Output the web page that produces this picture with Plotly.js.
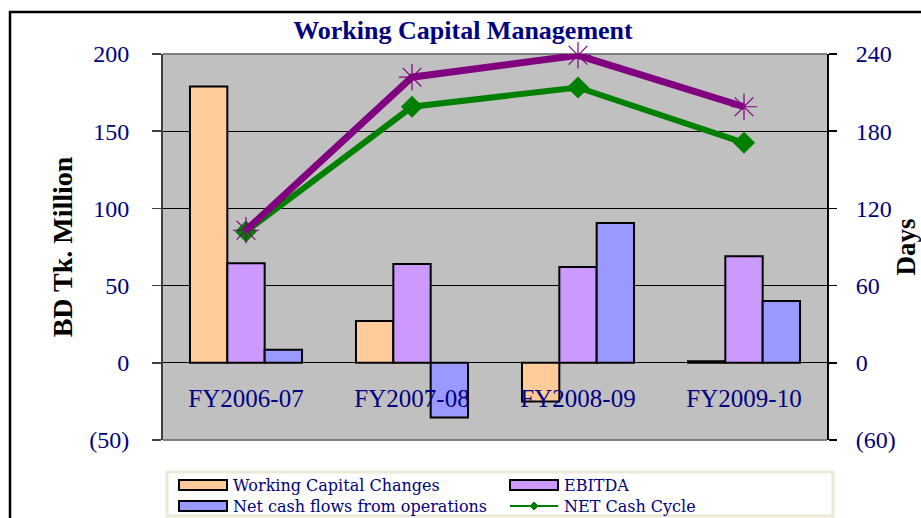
<!DOCTYPE html>
<html>
<head>
<meta charset="utf-8">
<script src="https://cdn.plot.ly/plotly-3.0.1.min.js"></script>
<style>html,body{margin:0;padding:0;background:#fff;}#chart{width:921px;height:518px;}</style>
</head>
<body>
<div id="chart"></div>
<script>
// ---- data ----
const categories = ['FY2006-07', 'FY2007-08', 'FY2008-09', 'FY2009-10'];
const workingCapitalChanges = [179, 27, -25, 1];
const ebitda = [64.5, 64, 62, 69];
const netCashFlows = [8.5, -35.5, 90.5, 40];
const netCashCycle = [102, 199, 214, 171];
const operatingCycle = [103, 222, 239, 199];
const seriesNames = ['Working Capital Changes', 'EBITDA', 'Net cash flows from operations', 'NET Cash Cycle'];
const leftTickVals = [-50, 0, 50, 100, 150, 200];
const leftTickText = ['(50)', '0', '50', '100', '150', '200'];
const rightTickVals = [-60, 0, 60, 120, 180, 240];
const rightTickText = ['(60)', '0', '60', '120', '180', '240'];

// ---- styles ----
const W = 921, H = 518;
const M = {l: 163, r: 94, t: 54, b: 78};
const PW = W - M.l - M.r, PH = H - M.t - M.b;
const px = v => (v - M.l) / PW;
const py = v => (H - M.b - v) / PH;
const navy = '#000080';
const serif = 'Liberation Serif, Times New Roman, serif';
const colOrange = '#FFCC99', colPurpleBar = '#CC99FF', colBlue = '#9999FF';
const colGreen = '#008000', colPurple = '#800080';

const barLine = {color: '#000', width: 2};
const traces = [
  {type: 'bar', name: seriesNames[0], x: categories, y: workingCapitalChanges,
   marker: {color: colOrange, line: barLine}},
  {type: 'bar', name: seriesNames[1], x: categories, y: ebitda,
   marker: {color: colPurpleBar, line: barLine}},
  {type: 'bar', name: seriesNames[2], x: categories, y: netCashFlows,
   marker: {color: colBlue, line: barLine}},
  {type: 'scatter', mode: 'lines+markers', name: seriesNames[3], x: categories, y: netCashCycle,
   yaxis: 'y2', line: {color: colGreen, width: 6},
   marker: {symbol: 'diamond', size: 17, color: colGreen}, cliponaxis: false},
  {type: 'scatter', mode: 'lines+markers', name: 'Operating Cycle', x: categories, y: operatingCycle,
   yaxis: 'y2', line: {color: colPurple, width: 7},
   marker: {symbol: 'asterisk-open', size: 22, color: colPurple, line: {color: colPurple, width: 1.2}},
   cliponaxis: false}
];

// ---- manual legend ----
const shapes = [
  // outer frame
  {type: 'rect', xref: 'paper', yref: 'paper', x0: px(10), x1: px(940), y0: py(12), y1: py(540),
   line: {color: '#000', width: 2.5}, fillcolor: 'rgba(0,0,0,0)', layer: 'below'},
  // plot border top / bottom
  {type: 'line', xref: 'paper', yref: 'paper', x0: 0, x1: 1, y0: 1, y1: 1, line: {color: '#808080', width: 2}, layer: 'below'},
  {type: 'line', xref: 'paper', yref: 'paper', x0: 0, x1: 1, y0: 0, y1: 0, line: {color: '#808080', width: 2}, layer: 'above'},
  // legend box
  {type: 'rect', xref: 'paper', yref: 'paper', x0: px(167), x1: px(833), y0: py(472), y1: py(516),
   line: {color: '#ECE9D8', width: 3}, fillcolor: '#fff', layer: 'above'}
];
const annotations = [];
const legendItems = [
  {name: seriesNames[0], kind: 'bar', color: colOrange, x: 179, y: 485},
  {name: seriesNames[1], kind: 'bar', color: colPurpleBar, x: 510, y: 485},
  {name: seriesNames[2], kind: 'bar', color: colBlue, x: 179, y: 506},
  {name: seriesNames[3], kind: 'line', color: colGreen, x: 510, y: 506}
];
legendItems.forEach(it => {
  if (it.kind === 'bar') {
    shapes.push({type: 'rect', xref: 'paper', yref: 'paper', x0: px(it.x), x1: px(it.x + 48),
      y0: py(it.y - 5), y1: py(it.y + 5), line: {color: '#000', width: 2}, fillcolor: it.color, layer: 'above'});
  } else {
    shapes.push({type: 'line', xref: 'paper', yref: 'paper', x0: px(it.x), x1: px(it.x + 48),
      y0: py(it.y), y1: py(it.y), line: {color: it.color, width: 2}, layer: 'above'});
    shapes.push({type: 'path', xref: 'paper', yref: 'paper', xsizemode: 'pixel', ysizemode: 'pixel',
      xanchor: px(it.x + 24), yanchor: py(it.y), path: 'M -4 0 L 0 4 L 4 0 L 0 -4 Z',
      line: {color: it.color, width: 1}, fillcolor: it.color, layer: 'above'});
  }
  annotations.push({xref: 'paper', yref: 'paper', x: px(it.x + 52), y: py(it.y), xanchor: 'left', yanchor: 'middle',
    text: it.name, showarrow: false, font: {family: 'DejaVu Serif, serif', size: 16, color: navy}});
});

const layout = {
  width: W, height: H,
  margin: M,
  paper_bgcolor: '#fff', plot_bgcolor: '#C0C0C0',
  showlegend: false,
  barmode: 'group', bargap: 0.325, bargroupgap: 0,
  title: {text: 'Working Capital Management', x: 463 / W, xanchor: 'center', y: 1 - 30 / H, yanchor: 'middle',
    font: {family: serif, size: 26, color: navy, weight: 'bold'}},
  xaxis: {type: 'category', anchor: 'free', position: py(363), showgrid: false, zeroline: false, showline: false,
    ticks: '', ticklabelstandoff: 18, tickfont: {family: serif, size: 25, color: navy}},
  yaxis: {range: [-50, 200], tickvals: leftTickVals, ticktext: leftTickText, showgrid: true, gridcolor: '#000', gridwidth: 1,
    zeroline: true, zerolinecolor: '#000', zerolinewidth: 1, showline: true, linecolor: '#404040', linewidth: 2,
    ticks: 'outside', ticklen: 9, tickcolor: '#404040', tickwidth: 1.5, ticklabelstandoff: 18,
    tickfont: {family: serif, size: 24, color: navy},
    title: {text: 'BD Tk. Million', standoff: 8, font: {family: serif, size: 28, color: '#000', weight: 'bold'}}},
  yaxis2: {overlaying: 'y', side: 'right', range: [-60, 240], tickvals: rightTickVals, ticktext: rightTickText,
    showgrid: false, zeroline: false, showline: true, linecolor: '#000', linewidth: 2,
    ticks: 'outside', ticklen: 8, tickcolor: '#000', tickwidth: 1.5, ticklabelstandoff: 14,
    tickfont: {family: serif, size: 24, color: navy},
    title: {text: 'Days', standoff: 3, font: {family: serif, size: 27, color: '#000', weight: 'bold'}}},
  shapes: shapes,
  annotations: annotations
};

Plotly.newPlot('chart', traces, layout, {displayModeBar: false, staticPlot: true});
</script>
</body>
</html>
